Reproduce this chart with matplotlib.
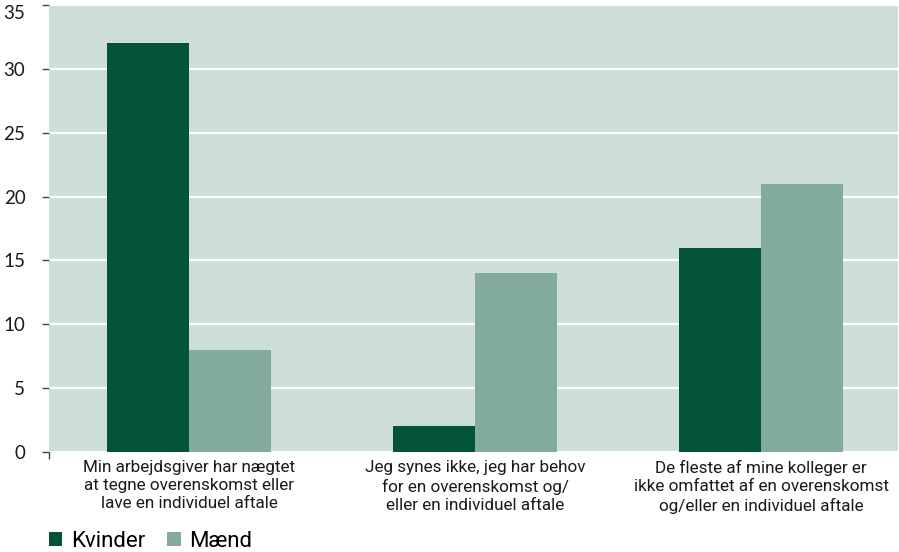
import matplotlib
matplotlib.use("Agg")
import matplotlib.pyplot as plt
import numpy as np
from matplotlib.patches import Patch

categories = [
    "Min arbejdsgiver har nægtet\nat tegne overenskomst eller\nlave en individuel aftale",
    "Jeg synes ikke, jeg har behov\nfor en overenskomst og/\neller en individuel aftale",
    "De fleste af mine kolleger er\nikke omfattet af en overenskomst\nog/eller en individuel aftale",
]
kvinder = [32, 2, 16]
maend = [8, 14, 21]
series_names = ["Kvinder", "Mænd"]
y_ticks = [0, 5, 10, 15, 20, 25, 30, 35]

dark = "#02533A"
light = "#82AA9E"
bg = "#CDDED8"
label_font = ["Roboto", "DejaVu Sans"]

fig = plt.figure(figsize=(8.99, 5.52), dpi=100)
ax = fig.add_axes([49 / 899, 1 - 452 / 552, (898 - 49) / 899, (452 - 5) / 552])
ax.set_facecolor(bg)

x = np.arange(len(categories))
w = 0.287
ax.bar(x - w / 2, kvinder, width=w, color=dark, zorder=3)
ax.bar(x + w / 2, maend, width=w, color=light, zorder=3)

xmin = -0.49
ax.set_xlim(xmin, 2.479)
ax.set_ylim(0, 35)
ax.set_yticks(y_ticks)
ax.yaxis.grid(True, color="white", linewidth=1.6, zorder=1)
ax.set_axisbelow(True)
for s in ax.spines.values():
    s.set_visible(False)

ax.tick_params(axis="y", length=5, width=1, color="#444444", pad=12,
               labelsize=13.5, labelcolor="#1a1a1a")
for lab in ax.get_yticklabels():
    lab.set_family(["Lato", "DejaVu Sans"])
# keep the top label inside the figure
ax.get_yticklabels()[-1].set_verticalalignment("top")

ax.set_xticks(x)
ax.set_xticklabels(categories, family=label_font,
                   fontsize=12.3, color="#1a1a1a", linespacing=1.25)
ax.tick_params(axis="x", which="major", length=0, pad=6)
ax.set_xticks([xmin], minor=True)
ax.tick_params(axis="x", which="minor", length=5, width=1, color="#444444")

handles = [Patch(facecolor=dark, edgecolor="none"), Patch(facecolor=light, edgecolor="none")]
fig.legend(handles, series_names, loc="lower left", bbox_to_anchor=(49 / 899, 0.0),
           ncol=2, frameon=False, borderpad=0, borderaxespad=0,
           handlelength=0.6, handleheight=0.6,
           handletextpad=0.38, columnspacing=1.0,
           prop={"family": label_font, "size": 16})

fig.savefig("out.png", dpi=100)
